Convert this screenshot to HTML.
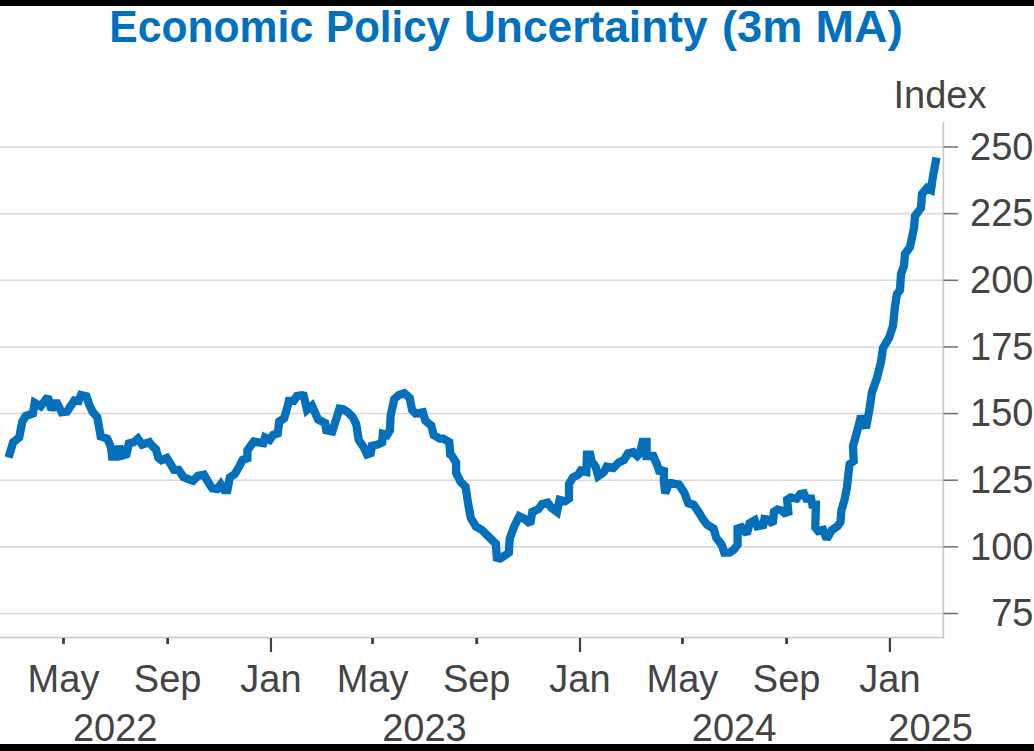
<!DOCTYPE html>
<html><head><meta charset="utf-8"><style>
html,body{margin:0;padding:0;background:#fff;width:1034px;height:751px;overflow:hidden}
svg{display:block}
.g{stroke:#d9d9d9;stroke-width:1.6}
.ax{stroke:#c8c8c8;stroke-width:1.6;fill:none}
.yt{stroke:#6e6e6e;stroke-width:1.5}
.xt{stroke:#404040;stroke-width:2.8}
.xtj{stroke:#404040;stroke-width:2.2}
text{font-family:"Liberation Sans",sans-serif;font-size:38px;fill:#444444}
.title{font-weight:bold;font-size:44px;fill:#0070c0}
</style></head><body>
<svg width="1034" height="751" viewBox="0 0 1034 751">
<rect x="0" y="0" width="1034" height="751" fill="#fff"/>
<line x1="0" y1="147.00" x2="943" y2="147.00" class="g"/>
<line x1="0" y1="213.64" x2="943" y2="213.64" class="g"/>
<line x1="0" y1="280.29" x2="943" y2="280.29" class="g"/>
<line x1="0" y1="346.93" x2="943" y2="346.93" class="g"/>
<line x1="0" y1="413.57" x2="943" y2="413.57" class="g"/>
<line x1="0" y1="480.21" x2="943" y2="480.21" class="g"/>
<line x1="0" y1="546.86" x2="943" y2="546.86" class="g"/>
<line x1="0" y1="613.50" x2="943" y2="613.50" class="g"/>

<polyline points="0,637.5 943.4,637.5 943.4,122" class="ax"/>
<line x1="943.5" y1="147.00" x2="958" y2="147.00" class="yt"/>
<line x1="943.5" y1="213.64" x2="958" y2="213.64" class="yt"/>
<line x1="943.5" y1="280.29" x2="958" y2="280.29" class="yt"/>
<line x1="943.5" y1="346.93" x2="958" y2="346.93" class="yt"/>
<line x1="943.5" y1="413.57" x2="958" y2="413.57" class="yt"/>
<line x1="943.5" y1="480.21" x2="958" y2="480.21" class="yt"/>
<line x1="943.5" y1="546.86" x2="958" y2="546.86" class="yt"/>
<line x1="943.5" y1="613.50" x2="958" y2="613.50" class="yt"/>
<line x1="63.5" y1="638" x2="63.5" y2="644" class="xt"/>
<line x1="167.65" y1="638" x2="167.65" y2="644" class="xt"/>
<line x1="270.95" y1="638" x2="270.95" y2="652" class="xtj"/>
<line x1="372.55" y1="638" x2="372.55" y2="644" class="xt"/>
<line x1="476.7" y1="638" x2="476.7" y2="644" class="xt"/>
<line x1="580" y1="638" x2="580" y2="652" class="xtj"/>
<line x1="682.45" y1="638" x2="682.45" y2="644" class="xt"/>
<line x1="786.6" y1="638" x2="786.6" y2="644" class="xt"/>
<line x1="889.9" y1="638" x2="889.9" y2="652" class="xtj"/>

<path d="M8.5 457.5 L13.2 442.3 L19.2 437.5 L22.2 421.9 L25.7 416.0 L32.9 413.5 L34.7 402.8 L40.7 406.3 L47.9 396.8 L51.5 410.0 L56.0 401.0 L61.7 412.3 L67.0 411.7 L74.3 400.4 L78.6 401.0 L81.0 395.0 L86.4 396.2 L89.4 405.1 L93.0 412.3 L97.2 417.1 L99.6 430.3 L100.7 436.3 L107.3 438.7 L110.9 447.0 L112.1 456.6 L116.3 456.6 L119.3 446.5 L122.9 455.4 L126.5 454.3 L128.9 443.5 L133.7 442.3 L137.9 438.7 L142.1 444.7 L149.3 442.3 L150.0 443.5 L156.0 449.5 L158.4 457.9 L161.4 460.3 L166.8 457.9 L169.8 462.7 L174.0 469.9 L178.7 469.9 L183.5 477.1 L189.5 479.5 L193.1 480.7 L197.9 475.9 L203.9 474.7 L208.7 483.1 L212.3 488.4 L217.1 489.0 L220.7 484.3 L224.3 490.2 L227.4 490.2 L229.8 477.4 L234.6 474.2 L239.4 466.3 L242.6 459.9 L247.4 458.3 L247.4 450.3 L253.8 441.5 L258.5 442.3 L263.3 443.1 L265.0 437.5 L269.7 439.9 L272.9 435.1 L277.7 433.5 L279.3 421.5 L284.1 418.3 L286.5 410.4 L288.9 400.8 L293.7 400.8 L296.9 396.0 L301.7 395.2 L303.6 395.6 L307.0 410.0 L312.0 405.7 L318.0 419.5 L325.1 423.1 L326.3 430.3 L332.3 431.5 L339.5 408.7 L343.1 409.3 L347.9 412.3 L352.7 417.1 L356.3 424.3 L358.7 439.9 L363.5 447.0 L367.1 454.3 L370.7 453.1 L371.9 445.9 L376.6 444.7 L378.6 444.1 L382.2 442.3 L382.8 433.9 L387.0 435.1 L390.0 430.3 L390.6 415.9 L394.2 399.2 L399.0 395.0 L404.3 393.2 L409.7 398.0 L412.1 409.9 L415.7 413.5 L422.9 412.3 L425.3 420.7 L431.3 425.5 L433.7 435.1 L439.7 438.7 L443.3 438.7 L449.3 442.3 L450.4 456.6 L451.7 455.6 L456.1 462.5 L456.1 472.9 L460.4 481.6 L465.6 486.8 L468.2 504.1 L470.8 517.9 L476.0 526.6 L482.0 530.0 L487.2 535.2 L490.7 538.7 L495.9 543.9 L496.8 557.7 L500.2 558.6 L508.9 552.6 L509.7 538.7 L514.1 526.6 L519.3 516.2 L524.5 518.8 L530.3 523.9 L532.3 511.9 L538.3 509.2 L542.3 503.9 L547.6 502.6 L551.6 507.9 L557.0 511.9 L559.6 499.9 L565.0 501.3 L569.0 498.6 L569.0 483.9 L573.0 477.3 L578.3 474.6 L580.9 470.6 L586.3 472.0 L586.9 454.6 L590.2 454.6 L591.6 461.3 L595.6 466.6 L598.2 476.0 L602.2 473.3 L604.0 471.9 L606.7 466.6 L613.3 467.9 L618.6 462.6 L624.0 460.0 L628.0 453.3 L633.3 452.0 L637.3 456.0 L640.0 453.3 L642.6 442.0 L646.6 442.0 L646.6 456.0 L653.3 456.0 L657.3 465.3 L659.9 473.3 L663.9 467.9 L663.9 481.3 L665.2 493.2 L669.2 482.6 L674.6 483.9 L679.0 484.6 L684.3 492.6 L688.3 503.3 L693.6 504.6 L699.0 512.6 L703.0 519.3 L707.0 524.6 L713.6 528.6 L716.3 537.9 L721.6 544.6 L724.3 552.6 L729.6 552.6 L733.6 549.9 L737.6 544.6 L737.6 528.6 L741.6 527.3 L746.9 533.9 L749.6 523.3 L754.8 520.3 L757.2 526.3 L763.2 525.1 L764.4 519.1 L768.0 519.7 L772.8 523.9 L774.0 511.9 L777.5 509.5 L782.3 510.7 L784.7 513.1 L788.3 511.9 L787.1 499.9 L790.7 497.5 L796.7 498.7 L800.3 494.0 L803.9 493.4 L806.3 498.7 L811.1 498.7 L812.3 504.7 L815.9 504.7 L815.3 527.5 L818.3 531.1 L823.1 529.9 L826.7 539.0 L832.0 530.0 L837.5 526.3 L840.5 522.0 L841.5 510.0 L844.5 500.0 L847.0 487.0 L848.5 473.0 L849.7 464.0 L853.7 461.0 L853.0 446.0 L857.0 432.0 L861.0 416.0 L866.0 428.0 L869.0 412.0 L872.0 392.0 L877.0 378.0 L881.0 362.0 L883.0 348.0 L889.0 338.0 L893.0 326.0 L895.0 306.0 L897.0 294.0 L900.0 290.0 L901.0 274.0 L904.0 266.0 L905.0 254.0 L910.0 247.0 L914.0 228.0 L915.0 216.0 L921.0 208.0 L922.0 194.0 L927.0 188.0 L931.0 190.0 L933.0 176.0 L936.5 157.5" fill="none" stroke="#0470bc" stroke-width="8.3" stroke-linejoin="miter" stroke-miterlimit="2" stroke-linecap="butt"/>
<text x="109.2" y="41.6" class="title" textLength="204" lengthAdjust="spacingAndGlyphs">Economic</text>
<text x="326.1" y="41.6" class="title" textLength="123.9" lengthAdjust="spacingAndGlyphs">Policy</text>
<text x="463.8" y="41.6" class="title" textLength="243.9" lengthAdjust="spacingAndGlyphs">Uncertainty</text>
<text x="722.05" y="41.6" class="title" textLength="80.3" lengthAdjust="spacingAndGlyphs">(3m</text>
<text x="815.55" y="41.6" class="title" textLength="87.35" lengthAdjust="spacingAndGlyphs">MA)</text>
<text x="986.5" y="107.7" text-anchor="end">Index</text>
<text x="1033.5" y="159.8" text-anchor="end">250</text>
<text x="1033.5" y="226.4" text-anchor="end">225</text>
<text x="1033.5" y="293.1" text-anchor="end">200</text>
<text x="1033.5" y="359.7" text-anchor="end">175</text>
<text x="1033.5" y="426.4" text-anchor="end">150</text>
<text x="1033.5" y="493.0" text-anchor="end">125</text>
<text x="1033.5" y="559.7" text-anchor="end">100</text>
<text x="1033.5" y="626.3" text-anchor="end">75</text>
<text x="63.5" y="691.6" text-anchor="middle">May</text>
<text x="167.65" y="691.6" text-anchor="middle">Sep</text>
<text x="270.95" y="691.6" text-anchor="middle">Jan</text>
<text x="372.55" y="691.6" text-anchor="middle">May</text>
<text x="476.7" y="691.6" text-anchor="middle">Sep</text>
<text x="580" y="691.6" text-anchor="middle">Jan</text>
<text x="682.45" y="691.6" text-anchor="middle">May</text>
<text x="786.6" y="691.6" text-anchor="middle">Sep</text>
<text x="889.9" y="691.6" text-anchor="middle">Jan</text>
<text x="115.2" y="740.7" text-anchor="middle">2022</text>
<text x="424.5" y="740.7" text-anchor="middle">2023</text>
<text x="734.1" y="740.7" text-anchor="middle">2024</text>
<text x="930.6" y="740.7" text-anchor="middle">2025</text>

<rect x="0" y="0" width="1034" height="6" fill="#000"/>
<rect x="0" y="744" width="1034" height="7" fill="#000"/>
</svg>
</body></html>
